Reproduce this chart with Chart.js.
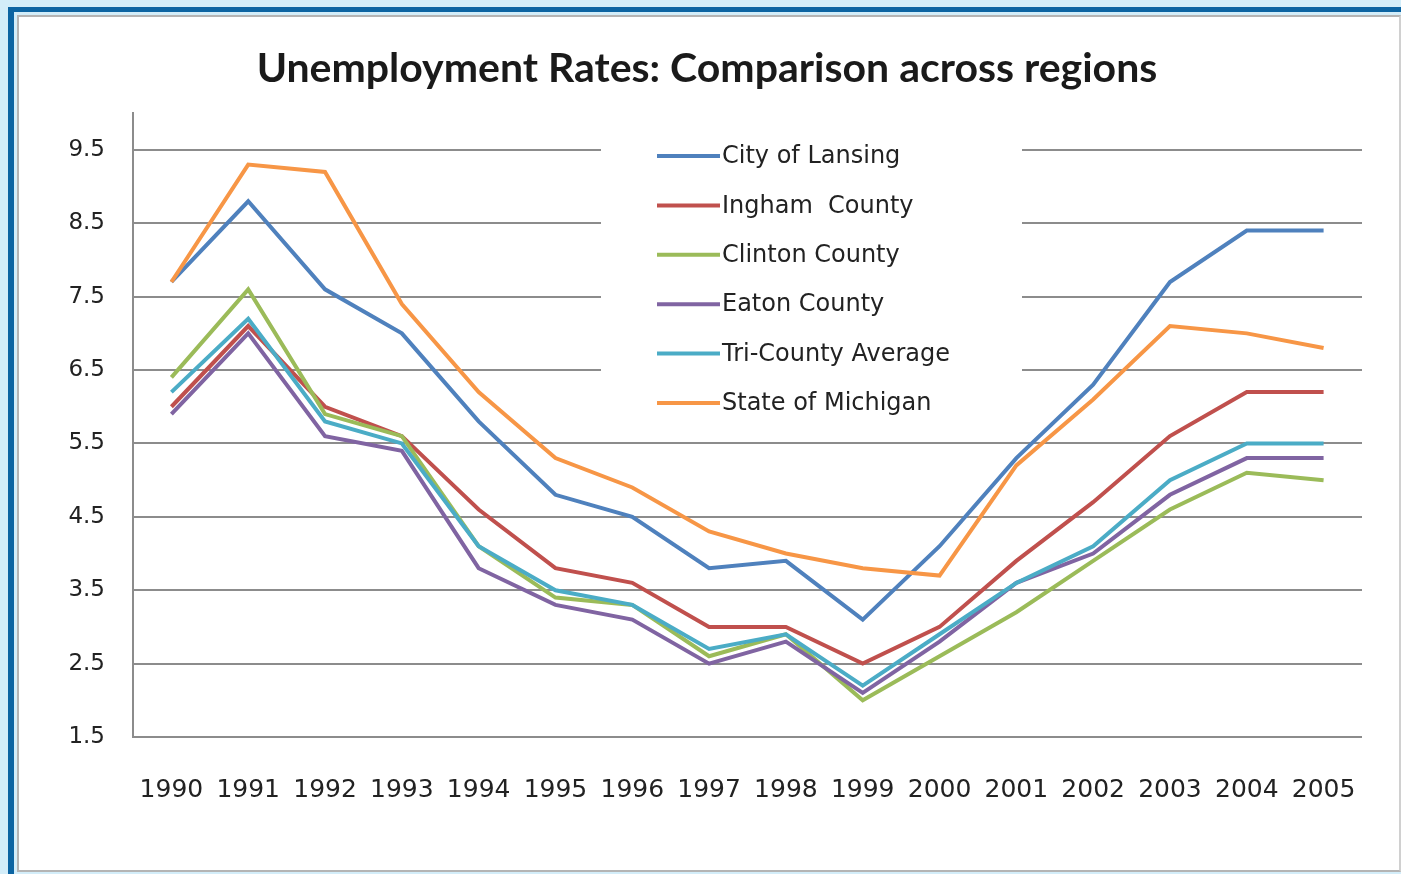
<!DOCTYPE html>
<html>
<head>
<meta charset="utf-8">
<script src="https://cdn.jsdelivr.net/npm/chart.js@4/dist/chart.umd.min.js"></script>
<style>
  body { margin: 0; background: #d3edf9; width: 1401px; height: 874px; overflow: hidden; }
  #frame { position: absolute; left: 8px; top: 7px; right: 0; bottom: 0; border-left: 6px solid #0c64a2; border-top: 5px solid #0c64a2; }
  #panel { position: absolute; left: 17px; top: 15px; width: 1380px; height: 853px; background: #fff; border: 2px solid #b4b4b4; border-right-color: #d0d0d0; }
  #chart { position: absolute; left: 20px; top: 18px; }
</style>
</head>
<body>
<div id="frame"></div>
<div id="panel"></div>
<canvas id="chart" width="1375" height="850"></canvas>
<script>
// Chart data
var years = ['1990', '1991', '1992', '1993', '1994', '1995', '1996', '1997', '1998', '1999', '2000', '2001', '2002', '2003', '2004', '2005'];
var lansing   = [7.7, 8.8, 7.6, 7.0, 5.8, 4.8, 4.5, 3.8, 3.9, 3.1, 4.1, 5.3, 6.3, 7.7, 8.4, 8.4];
var ingham    = [6.0, 7.1, 6.0, 5.6, 4.6, 3.8, 3.6, 3.0, 3.0, 2.5, 3.0, 3.9, 4.7, 5.6, 6.2, 6.2];
var clinton   = [6.4, 7.6, 5.9, 5.6, 4.1, 3.4, 3.3, 2.6, 2.9, 2.0, 2.6, 3.2, 3.9, 4.6, 5.1, 5.0];
var eaton     = [5.9, 7.0, 5.6, 5.4, 3.8, 3.3, 3.1, 2.5, 2.8, 2.1, 2.8, 3.6, 4.0, 4.8, 5.3, 5.3];
var triCounty = [6.2, 7.2, 5.8, 5.5, 4.1, 3.5, 3.3, 2.7, 2.9, 2.2, 2.9, 3.6, 4.1, 5.0, 5.5, 5.5];
var michigan  = [7.7, 9.3, 9.2, 7.4, 6.2, 5.3, 4.9, 4.3, 4.0, 3.8, 3.7, 5.2, 6.1, 7.1, 7.0, 6.8];
var yTicks = [1.5, 2.5, 3.5, 4.5, 5.5, 6.5, 7.5, 8.5, 9.5];

var seriesNames = ['City of Lansing', 'Ingham  County', 'Clinton County', 'Eaton County', 'Tri-County Average', 'State of Michigan'];
var seriesData = [lansing, ingham, clinton, eaton, triCounty, michigan];
var seriesColors = ['#4f81bd', '#c0504d', '#9bbb59', '#8064a2', '#4bacc6', '#f79646'];

// Legend drawn inside the plot, on a white box over the gridlines
var insideLegend = {
    id: 'insideLegend',
    beforeDatasetsDraw: function(chart) {
        var ctx = chart.ctx;
        ctx.save();
        ctx.fillStyle = '#ffffff';
        ctx.fillRect(581, 107, 421, 300);
        ctx.font = '24px "DejaVu Sans"';
        ctx.textBaseline = 'middle';
        chart.data.datasets.forEach(function(ds, i) {
            var y = 138 + i * 49.4;
            ctx.strokeStyle = ds.borderColor;
            ctx.lineWidth = 4;
            ctx.beginPath();
            ctx.moveTo(637, y);
            ctx.lineTo(700, y);
            ctx.stroke();
            ctx.fillStyle = '#222222';
            ctx.fillText(ds.label, 702, y + 1);
        });
        ctx.restore();
    }
};

var datasets = seriesNames.map(function(name, i) {
    return {
        label: name,
        data: seriesData[i],
        borderColor: seriesColors[i],
        backgroundColor: seriesColors[i],
        borderWidth: 4,
        pointRadius: 0,
        tension: 0,
        order: seriesNames.length - i
    };
});

new Chart(document.getElementById('chart'), {
    type: 'line',
    data: { labels: years, datasets: datasets },
    plugins: [insideLegend],
    options: {
        responsive: false,
        animation: false,
        devicePixelRatio: 1,
        layout: { padding: { left: 32, right: 33, top: 0, bottom: 0 } },
        plugins: {
            legend: { display: false },
            tooltip: { enabled: false },
            title: {
                display: true,
                text: 'Unemployment Rates: Comparison across regions',
                color: '#1a1a1a',
                font: { family: 'Lato', weight: 'bold', size: 41 },
                padding: { top: 26, bottom: 20 }
            }
        },
        scales: {
            x: {
                offset: true,
                grid: { display: false },
                border: { display: false },
                ticks: {
                    color: '#222222',
                    font: { family: 'DejaVu Sans', size: 25 },
                    padding: 30,
                    maxRotation: 0,
                    autoSkip: false
                },
                afterFit: function(scale) { scale.height = 131; }
            },
            y: {
                min: 1.5,
                max: 10,
                afterBuildTicks: function(scale) {
                    scale.ticks = yTicks.map(function(v) { return { value: v }; });
                },
                grid: { color: '#8c8c8c', lineWidth: 2, drawTicks: false },
                border: { color: '#8c8c8c', width: 2 },
                ticks: {
                    color: '#222222',
                    font: { family: 'DejaVu Sans', size: 23 },
                    padding: 28,
                    callback: function(v) { return Number(v).toFixed(1); }
                },
                afterFit: function(scale) { scale.width = 81; }
            }
        }
    }
});
</script>
</body>
</html>
